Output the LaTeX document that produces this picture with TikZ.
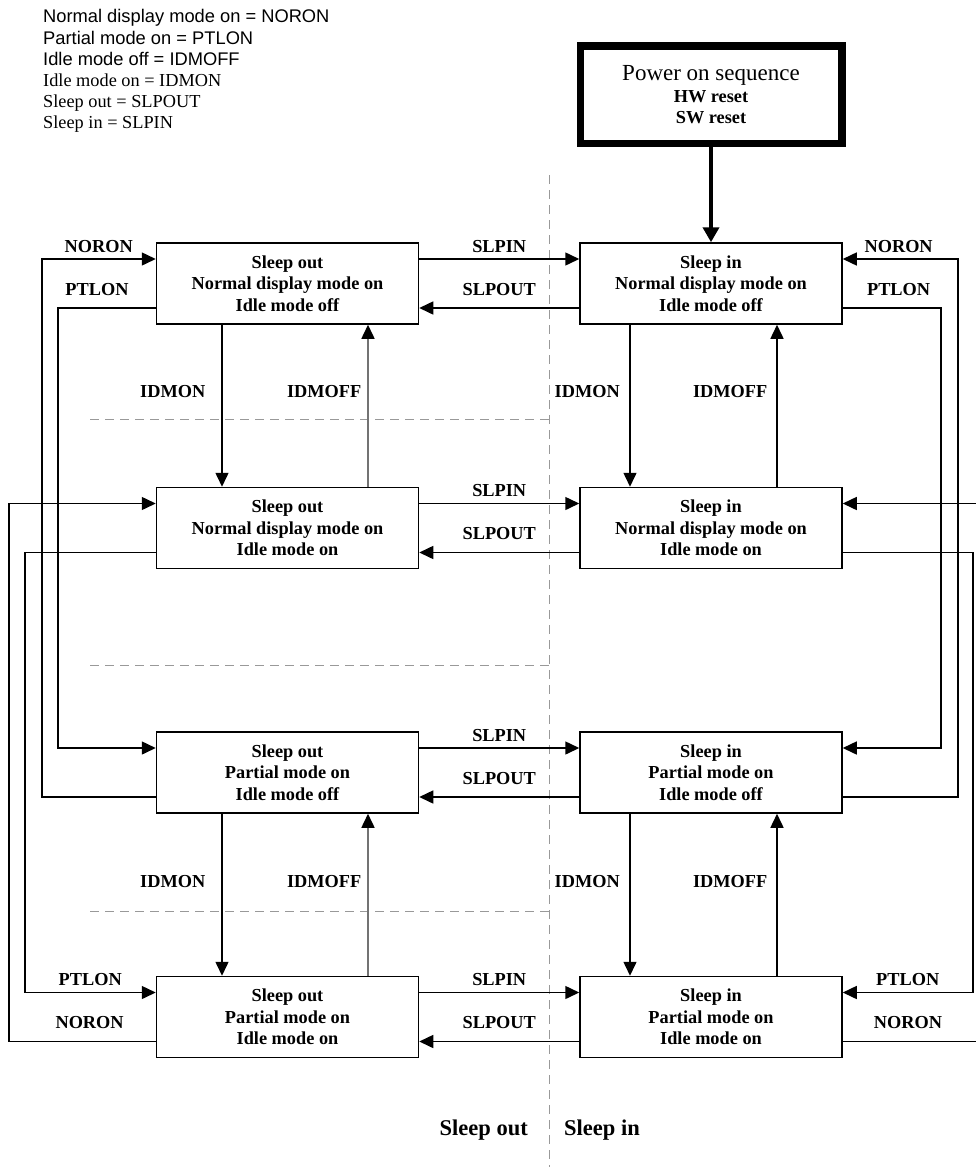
\documentclass[tikz,border=0pt]{standalone}
\usepackage{fontspec}
\setmainfont{Liberation Serif}
\setsansfont{Liberation Sans}
\usetikzlibrary{arrows.meta,positioning}
\newcommand{\boxfont}{\fontsize{18.3}{21.5}\selectfont\bfseries}
\tikzset{
  state/.style={rectangle, draw, line width=1.5pt, minimum width=262pt, minimum height=81pt, align=center, font=\boxfont, inner sep=0pt},
  power/.style={rectangle, draw, line width=7.5pt, minimum width=261.5pt, minimum height=97.5pt, align=center, font=\boxfont, inner sep=0pt},
  lbl/.style={font=\boxfont, inner sep=0pt},
  arr/.style={-{Triangle[length=14pt,width=13pt]}, line width=1.5pt},
  faint/.style={arr, draw=black!55, -{Triangle[length=14pt,width=13pt,color=black]}},
  bigarr/.style={-{Triangle[length=15pt,width=16pt]}, line width=4pt},
  divider/.style={draw=black!40, line width=1pt, dash pattern=on 9pt off 6pt}
}

\begin{document}
\begin{tikzpicture}[x=1pt, y=-1pt, node distance=162pt and 160pt]
\useasboundingbox (0,0) rectangle (976,1167);
% abbreviations
\node[anchor=north west, align=left, inner sep=0pt, font=\fontsize{18.3}{21.2}\selectfont] (key) at (43,9.4) {\sffamily Normal display mode on = NORON\\\sffamily Partial mode on = PTLON\\\sffamily Idle mode off = IDMOFF\\\rmfamily Idle mode on = IDMON\\Sleep out = SLPOUT\\Sleep in = SLPIN};

% dividers
\draw[divider] (549,175) -- (549,1167);
\draw[divider] (90,419) -- (549,419);
\draw[divider] (90,665) -- (549,665);
\draw[divider] (90,911) -- (549,911);

% states
\node[state] (so1) at (287.5,283.5) {Sleep out\\Normal display mode on\\Idle mode off};
\node[state, right=of so1] (si1) {Sleep in\\Normal display mode on\\Idle mode off};
\node[state, below=of so1] (so2) {Sleep out\\Normal display mode on\\Idle mode on};
\node[state, right=of so2] (si2) {Sleep in\\Normal display mode on\\Idle mode on};
\node[state, below=of so2] (so3) {Sleep out\\Partial mode on\\Idle mode off};
\node[state, right=of so3] (si3) {Sleep in\\Partial mode on\\Idle mode off};
\node[state, below=of so3] (so4) {Sleep out\\Partial mode on\\Idle mode on};
\node[state, right=of so4] (si4) {Sleep in\\Partial mode on\\Idle mode on};
\node[power, above=95pt of si1] (pwr) {{\fontsize{23}{26}\selectfont\mdseries Power on sequence}\\HW reset\\SW reset};
\draw[bigarr] (pwr) -- (si1);

% sleep in / sleep out
\draw[arr] ([yshift=24.5pt]so1.east) -- node[lbl, above=6pt] (slpin1) {SLPIN} ([yshift=24.5pt]si1.west);
\draw[arr] ([yshift=-24.5pt]si1.west) -- node[lbl, above=12pt] (slpout1) {SLPOUT} ([yshift=-24.5pt]so1.east);
\draw[arr] ([yshift=24.5pt]so2.east) -- node[lbl, above=6pt] (slpin2) {SLPIN} ([yshift=24.5pt]si2.west);
\draw[arr] ([yshift=-24.5pt]si2.west) -- node[lbl, above=12pt] (slpout2) {SLPOUT} ([yshift=-24.5pt]so2.east);
\draw[arr] ([yshift=24.5pt]so3.east) -- node[lbl, above=6pt] (slpin3) {SLPIN} ([yshift=24.5pt]si3.west);
\draw[arr] ([yshift=-24.5pt]si3.west) -- node[lbl, above=12pt] (slpout3) {SLPOUT} ([yshift=-24.5pt]so3.east);
\draw[arr] ([yshift=24.5pt]so4.east) -- node[lbl, above=6pt] (slpin4) {SLPIN} ([yshift=24.5pt]si4.west);
\draw[arr] ([yshift=-24.5pt]si4.west) -- node[lbl, above=12pt] (slpout4) {SLPOUT} ([yshift=-24.5pt]so4.east);

% idle on / idle off
\draw[arr] ([xshift=-65.5pt]so1.south) -- node[lbl, left=16pt, pos=0.41] (idmon1) {IDMON} ([xshift=-65.5pt]so2.north);
\draw[faint] ([xshift=80.5pt]so2.north) -- node[lbl, left=6pt, pos=0.59] (idmoff1) {IDMOFF} ([xshift=80.5pt]so1.south);
\draw[arr] ([xshift=-81pt]si1.south) -- node[lbl, left=9.5pt, pos=0.41] (idmon2) {IDMON} ([xshift=-81pt]si2.north);
\draw[arr] ([xshift=66pt]si2.north) -- node[lbl, left=9pt, pos=0.59] (idmoff2) {IDMOFF} ([xshift=66pt]si1.south);
\draw[arr] ([xshift=-65.5pt]so3.south) -- node[lbl, left=16pt, pos=0.42] (idmon3) {IDMON} ([xshift=-65.5pt]so4.north);
\draw[faint] ([xshift=80.5pt]so4.north) -- node[lbl, left=6pt, pos=0.58] (idmoff3) {IDMOFF} ([xshift=80.5pt]so3.south);
\draw[arr] ([xshift=-81pt]si3.south) -- node[lbl, left=9.5pt, pos=0.42] (idmon4) {IDMON} ([xshift=-81pt]si4.north);
\draw[arr] ([xshift=66pt]si4.north) -- node[lbl, left=9pt, pos=0.58] (idmoff4) {IDMOFF} ([xshift=66pt]si3.south);

% normal / partial, left side
\draw[arr] ([yshift=-24.5pt]so3.west) -- ++(-114pt,0) |- node[lbl, above=6pt, pos=0.75] (noron1) {NORON} ([yshift=24.5pt]so1.west);
\draw[arr] ([yshift=-24.5pt]so1.west) -- node[lbl, above=12pt, pos=0.6] (ptlon1) {PTLON} ++(-98pt,0) |- ([yshift=24.5pt]so3.west);
\draw[arr] ([yshift=-24.5pt]so2.west) -- ++(-131pt,0) |- node[lbl, above=6pt, pos=0.75] (ptlon2) {PTLON} ([yshift=24.5pt]so4.west);
\draw[arr] ([yshift=-24.5pt]so4.west) -- node[lbl, above=12pt, pos=0.45] (noron2) {NORON} ++(-147pt,0) |- ([yshift=24.5pt]so2.west);

% normal / partial, right side
\draw[arr] ([yshift=-24.5pt]si1.east) -- node[lbl, above=12pt, pos=0.57] (ptlon3) {PTLON} ++(98pt,0) |- ([yshift=24.5pt]si3.east);
\draw[arr] ([yshift=-24.5pt]si3.east) -- ++(115pt,0) |- node[lbl, above=6pt, pos=0.757] (noron3) {NORON} ([yshift=24.5pt]si1.east);
\draw[arr] ([yshift=-24.5pt]si2.east) -- ++(130pt,0) |- node[lbl, above=6pt, pos=0.75] (ptlon4) {PTLON} ([yshift=24.5pt]si4.east);
\draw[arr] ([yshift=-24.5pt]si4.east) -- node[lbl, above=12pt, pos=0.48] (noron4) {NORON} ++(136pt,0) |- ([yshift=24.5pt]si2.east);

\node[lbl, font=\fontsize{22.5}{27}\selectfont\bfseries, anchor=east] (sotxt) at (528,1130) {Sleep out};
\node[lbl, font=\fontsize{22.5}{27}\selectfont\bfseries, anchor=west] (sitxt) at (564,1130) {Sleep in};
\end{tikzpicture}
\end{document}
